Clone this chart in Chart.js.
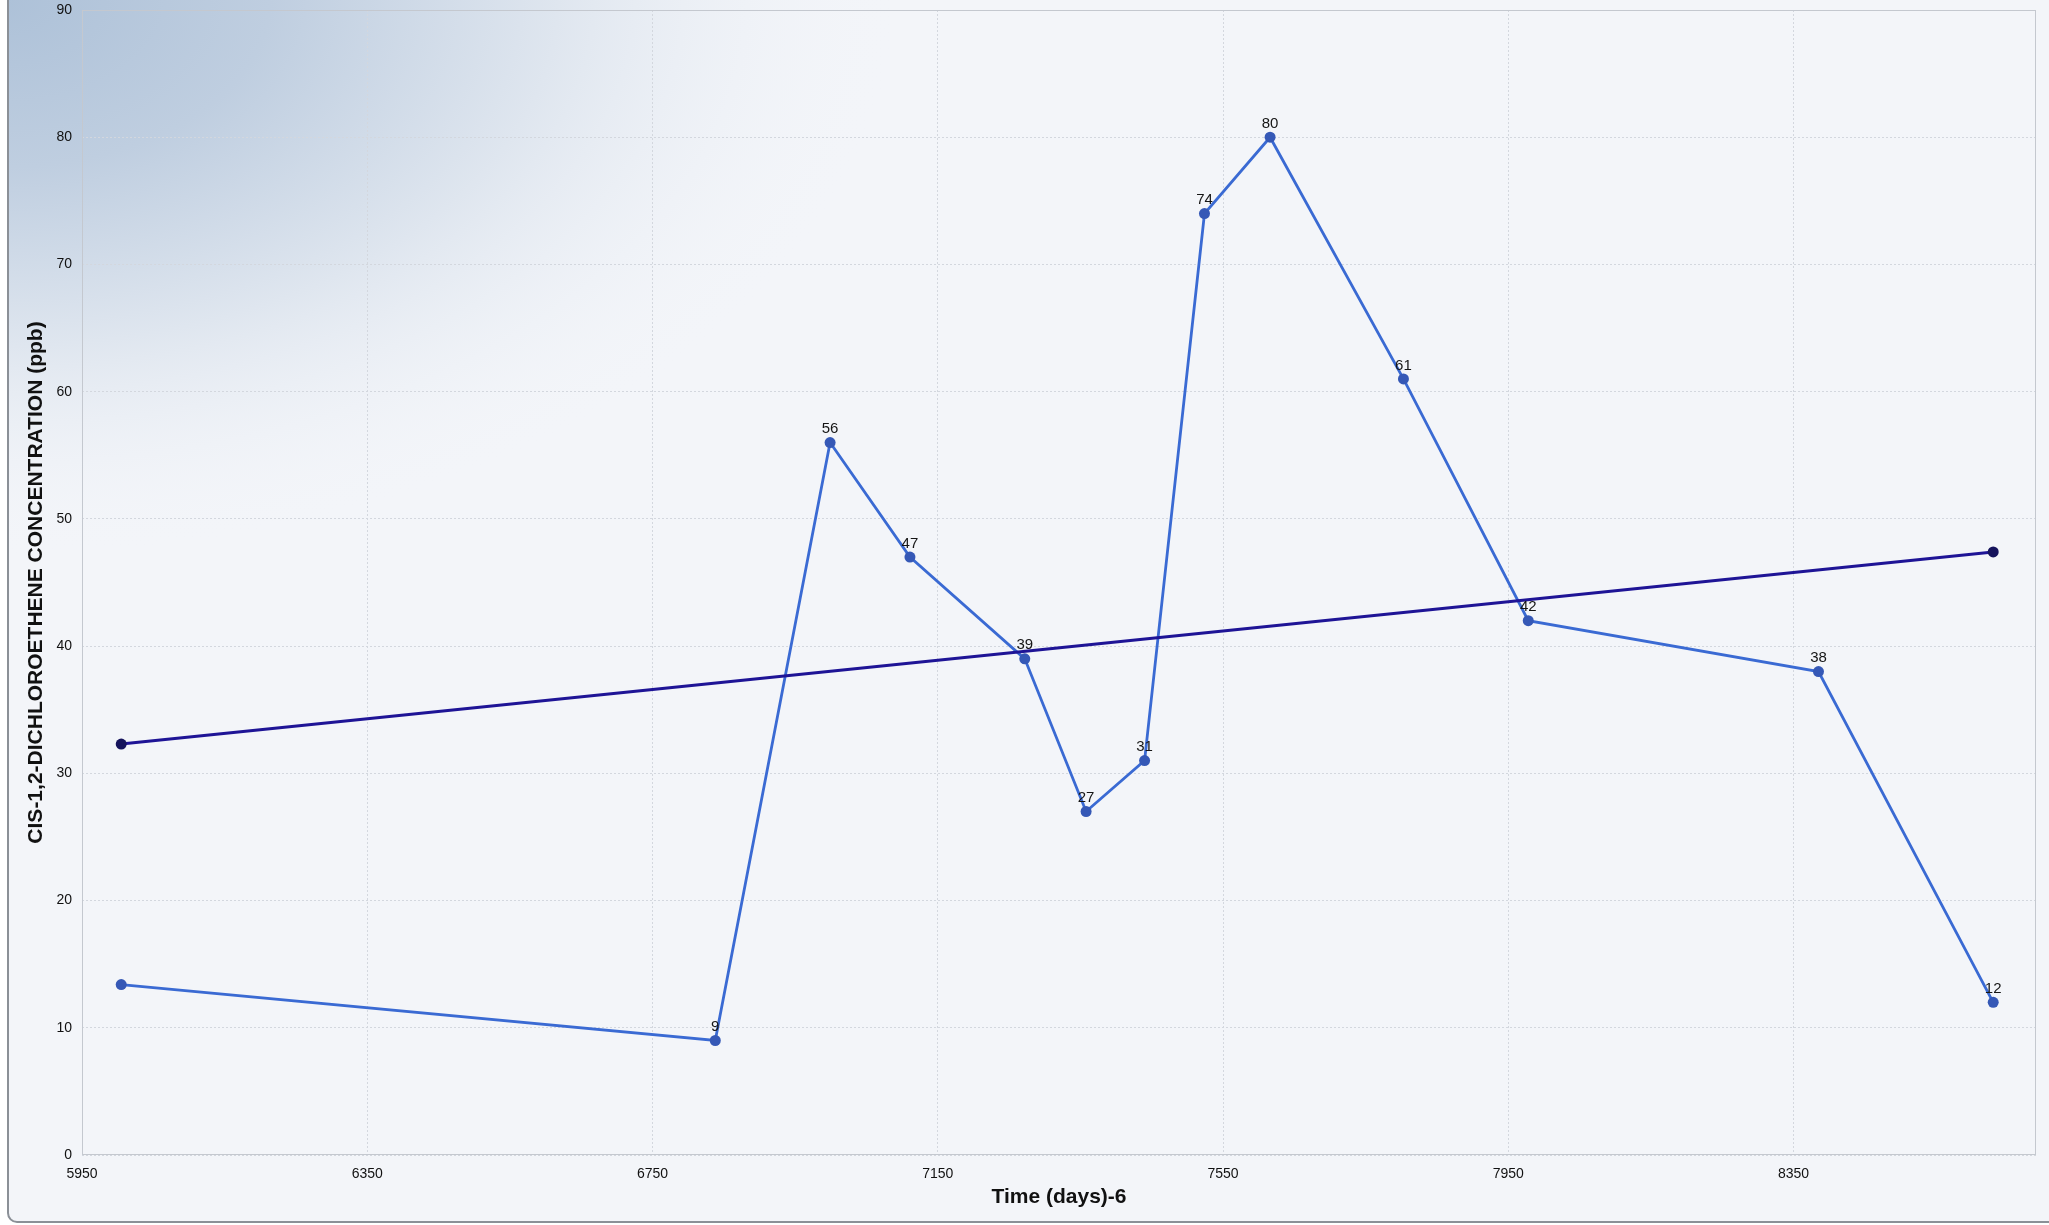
<!DOCTYPE html>
<html>
<head>
<meta charset="utf-8">
<title>cis-1,2-Dichloroethene concentration over time</title>
<script src="https://cdn.jsdelivr.net/npm/chart.js@4.4.1/dist/chart.umd.min.js"></script>
<style>
  html, body { margin: 0; padding: 0; background: #ffffff; }
  canvas { display: block; }
</style>
</head>
<body>
<canvas id="chart" width="2049" height="1225"></canvas>
<script>
// Sampling time (days) and measured concentration (ppb)
const sampleDays = [6005, 6838, 6999, 7111, 7272, 7358, 7440, 7524, 7616, 7803, 7978, 8385, 8630];
const concentration = [13.4, 9, 56, 47, 39, 27, 31, 74, 80, 61, 42, 38, 12];
const showValue = [false, true, true, true, true, true, true, true, true, true, true, true, true];

// Linear trend through the record
const trendDays = [6005, 8630];
const trendValues = [32.3, 47.4];

// Axis ticks and range
const xTickValues = [5950, 6350, 6750, 7150, 7550, 7950, 8350];
const yTickValues = [0, 10, 20, 30, 40, 50, 60, 70, 80, 90];
const xRange = [5950, 8690];
const yRange = [0, 90];

const xTitle = 'Time (days)-6';
const yTitle = 'CIS-1,2-DICHLOROETHENE CONCENTRATION (ppb)';

const toPoints = (xs, ys) => xs.map((x, i) => ({ x: x, y: ys[i] }));

// Panel background: pale fill, steel-blue glow in the top-left corner, grey frame
const backdrop = {
  id: 'backdrop',
  beforeDraw(chart) {
    const ctx = chart.ctx;
    const W = chart.width, H = chart.height;
    ctx.save();
    ctx.fillStyle = '#ffffff';
    ctx.fillRect(0, 0, W, H);

    const fx = 8, fy = -20, fw = W + 40, fh = 1222 - fy, r = 9;
    ctx.beginPath();
    ctx.roundRect(fx, fy, fw, fh, r);
    ctx.save();
    ctx.clip();
    ctx.fillStyle = '#f3f5f9';
    ctx.fillRect(0, 0, W, H);
    ctx.save();
    ctx.scale(1, 0.62);
    const g = ctx.createRadialGradient(0, 0, 0, 0, 0, 900);
    g.addColorStop(0, '#adc1d8');
    g.addColorStop(0.3, '#bfcee0');
    g.addColorStop(0.62, '#dfe6ef');
    g.addColorStop(1, 'rgba(243,245,249,0)');
    ctx.fillStyle = g;
    ctx.fillRect(0, 0, 900, 900 / 0.62);
    ctx.restore();
    ctx.restore();

    ctx.lineWidth = 2;
    ctx.strokeStyle = '#8b9097';
    ctx.beginPath();
    ctx.roundRect(fx, fy, fw, fh, r);
    ctx.stroke();
    ctx.restore();
  }
};

// Solid outline round the plotting area
const plotFrame = {
  id: 'plotFrame',
  beforeDatasetsDraw(chart) {
    const { ctx, chartArea: a } = chart;
    ctx.save();
    ctx.strokeStyle = '#c4c8cf';
    ctx.lineWidth = 1;
    ctx.strokeRect(a.left + 0.5, a.top + 0.5, a.right - a.left - 1, a.bottom - a.top - 1);
    ctx.restore();
  }
};

// Value labels above the measured points
const valueLabels = {
  id: 'valueLabels',
  afterDatasetsDraw(chart) {
    const ctx = chart.ctx;
    const meta = chart.getDatasetMeta(1);
    ctx.save();
    ctx.font = '15px "Liberation Sans", Arial, sans-serif';
    ctx.fillStyle = '#151515';
    ctx.textAlign = 'center';
    ctx.textBaseline = 'bottom';
    meta.data.forEach((pt, i) => {
      if (!showValue[i]) return;
      ctx.fillText(String(concentration[i]), pt.x, pt.y - 6);
    });
    ctx.restore();
  }
};

const tickFont = { family: '"Liberation Sans", Arial, sans-serif', size: 14 };
const titleFont = { family: '"Liberation Sans", Arial, sans-serif', size: 21, weight: 'bold' };

new Chart(document.getElementById('chart'), {
  type: 'line',
  data: {
    datasets: [
      {
        label: 'Trend',
        data: toPoints(trendDays, trendValues),
        borderColor: '#1e1496',
        backgroundColor: '#14125a',
        borderWidth: 3,
        pointRadius: 5.5,
        pointBorderWidth: 0,
        pointBackgroundColor: '#15135c',
        order: 0
      },
      {
        label: 'cis-1,2-DCE',
        data: toPoints(sampleDays, concentration),
        borderColor: '#3a6ad3',
        backgroundColor: '#3658b8',
        borderWidth: 2.8,
        pointRadius: 5.5,
        pointBorderWidth: 0,
        pointBackgroundColor: '#3558b6',
        order: 1
      }
    ]
  },
  options: {
    responsive: false,
    animation: false,
    devicePixelRatio: 1,
    layout: { padding: { top: 10, right: 13, left: 0, bottom: 0 } },
    plugins: {
      legend: { display: false },
      tooltip: { enabled: false },
      title: { display: false }
    },
    scales: {
      x: {
        type: 'linear',
        min: xRange[0],
        max: xRange[1],
        afterBuildTicks(scale) {
          scale.ticks = xTickValues.map(v => ({ value: v }));
        },
        afterFit(scale) { scale.height = 70; },
        ticks: {
          font: tickFont,
          color: '#111111',
          padding: 11,
          maxRotation: 0,
          autoSkip: false,
          callback: v => String(v)
        },
        grid: { color: '#d3d7de', lineWidth: 1, drawTicks: false },
        border: { display: false, dash: [2, 2] },
        title: {
          display: true,
          text: xTitle,
          font: titleFont,
          color: '#111111',
          padding: { top: 0, bottom: 15 }
        }
      },
      y: {
        type: 'linear',
        min: yRange[0],
        max: yRange[1],
        afterBuildTicks(scale) {
          scale.ticks = yTickValues.map(v => ({ value: v }));
        },
        afterFit(scale) {
          scale.width = 82;
          scale.paddingTop = 0;
          scale.paddingBottom = 0;
        },
        ticks: {
          font: tickFont,
          color: '#111111',
          padding: 10,
          callback: v => String(v)
        },
        grid: { color: '#d3d7de', lineWidth: 1, drawTicks: false },
        border: { display: false, dash: [2, 2] },
        title: {
          display: true,
          text: yTitle,
          font: titleFont,
          color: '#111111',
          padding: { top: 24, bottom: 0 }
        }
      }
    }
  },
  plugins: [backdrop, plotFrame, valueLabels]
});
</script>
</body>
</html>
